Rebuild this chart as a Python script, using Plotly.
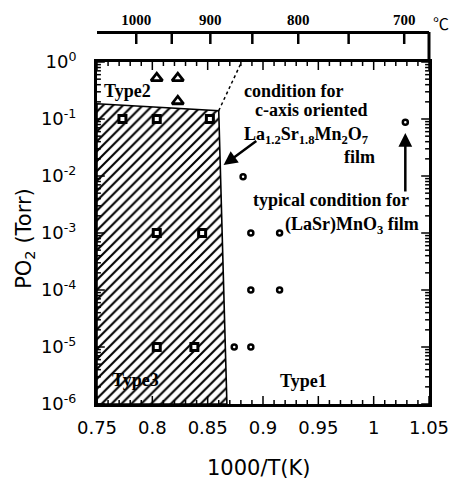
import plotly.graph_objects as go

# ---- data -------------------------------------------------------------
# Type3 (hatched region): squares
type3_x = [0.773, 0.804, 0.852, 0.804, 0.845, 0.804, 0.838]
type3_p = [0.1, 0.1, 0.1, 1e-3, 1e-3, 1e-5, 1e-5]

# Type2: triangles
type2_x = [0.804, 0.823, 0.823]
type2_p = [0.52, 0.52, 0.205]

# Type1: circles
type1_x = [0.882, 0.889, 0.915, 0.889, 0.915, 0.874, 0.889, 1.0286]
type1_p = [0.0097, 1e-3, 1e-3, 1e-4, 1e-4, 1e-5, 1e-5, 0.0875]

# Boundary of the Type3 region and the Type1/Type2 border
region3_x = [0.75, 0.860, 0.8674, 0.75, 0.75]
region3_p = [0.185, 0.14, 1e-6, 1e-6, 0.185]
border12_x = [0.860, 0.8806]
border12_p = [0.14, 1.0]

# Axis ticks
x_tickvals = [0.75, 0.8, 0.85, 0.9, 0.95, 1.0, 1.05]
x_ticktext = ["0.75", "0.8", "0.85", "0.9", "0.95", "1", "1.05"]
x_minor = [round(0.75 + 0.01 * i, 2) for i in range(31)]
y_exponents = [-6, -5, -4, -3, -2, -1, 0]
celsius_ticks = [1000, 950, 900, 850, 800, 750, 700]
celsius_labels = ["1000", "", "900", "", "800", "", "700"]

# ---- derived tick positions ----------------------------------------------
y_tickvals = [10.0 ** e for e in y_exponents]
y_ticktext = [f"10<sup>{e}</sup>" for e in y_exponents]
y_minor = [m * 10.0 ** e for e in y_exponents[:-1] for m in range(2, 10)]
top_tickvals = [1000.0 / (t + 273.15) for t in celsius_ticks]

X_RANGE = (0.75, 1.05)
Y_RANGE = (-6, 0)          # log10 of PO2
PLOT_W, PLOT_H = 340, 342  # pixel size of the main frame
PAPER_H = 372
STRIP_H = PAPER_H - PLOT_H # strip between the frame and the Celsius axis
Y_TOP = PLOT_H / PAPER_H   # main plot top, as fraction of the paper height

SANS = "DejaVu Sans"
SERIF = "Liberation Serif"

fig = go.Figure()

# hatched Type3 region
fig.add_trace(go.Scatter(
    x=region3_x, y=region3_p, mode="lines", fill="toself",
    fillpattern=dict(shape="/", size=7, solidity=0.3, fgcolor="black",
                     bgcolor="white", fgopacity=1, fillmode="replace"),
    line=dict(color="black", width=1.6), hoverinfo="skip", showlegend=False,
))
# dotted border between Type1 and Type2
fig.add_trace(go.Scatter(
    x=border12_x, y=border12_p, mode="lines",
    line=dict(color="black", width=1.5, dash="dot"), showlegend=False,
))

fig.add_trace(go.Scatter(
    x=type3_x, y=type3_p, mode="markers", showlegend=False,
    marker=dict(symbol="square", size=7, color="white", line=dict(color="black", width=3)),
))
fig.add_trace(go.Scatter(
    x=type2_x, y=type2_p, mode="markers", showlegend=False,
    marker=dict(symbol="triangle-up", size=10, color="white", line=dict(color="black", width=2.8)),
))
fig.add_trace(go.Scatter(
    x=type1_x, y=type1_p, mode="markers", showlegend=False,
    marker=dict(symbol="circle", size=5, color="white", line=dict(color="black", width=2.5)),
))

# downward ticks of the Celsius axis, drawn in the strip above the frame
cel_x, cel_y = [], []
for v in top_tickvals:
    cel_x += [v, v, None]
    cel_y += [STRIP_H, STRIP_H - 12, None]
fig.add_trace(go.Scatter(x=cel_x, y=cel_y, xaxis="x2", yaxis="y2", mode="lines",
                         line=dict(color="black", width=2.5), hoverinfo="skip",
                         showlegend=False))

axis_common = dict(showgrid=False, zeroline=False, showline=True, linecolor="black",
                   linewidth=3, ticks="")

fig.update_layout(
    width=461, height=479,
    margin=dict(l=97, r=24, t=32, b=75),
    paper_bgcolor="white", plot_bgcolor="white",
    xaxis=dict(
        **axis_common, range=list(X_RANGE), mirror=True,
        tickvals=x_tickvals, ticktext=x_ticktext,
        tickfont=dict(family=SANS, size=18, color="black"), ticklabelstandoff=5,
    ),
    xaxis2=dict(
        **axis_common, range=list(X_RANGE), overlaying="x", side="top",
        anchor="free", position=1.0,
        tickvals=top_tickvals, ticktext=celsius_labels,
        tickfont=dict(family=SERIF, size=15, color="black", weight="bold"),
    ),
    yaxis=dict(
        **axis_common, type="log", range=list(Y_RANGE), domain=[0, Y_TOP], mirror=True,
        tickvals=y_tickvals, ticktext=y_ticktext,
        tickfont=dict(family=SANS, size=18, color="black"), ticklabelstandoff=14,
    ),
    yaxis2=dict(domain=[Y_TOP, 1], range=[0, STRIP_H], anchor="x2", visible=False,
                showgrid=False, zeroline=False),
)

# inward tick marks on all four sides of the frame (lengths given in pixels)
tick_line = dict(color="black", width=1.5)
dx_per_px = (X_RANGE[1] - X_RANGE[0]) / PLOT_W
ddec_per_px = (Y_RANGE[1] - Y_RANGE[0]) / PLOT_H
for v in x_minor:
    length = 8 if v in x_tickvals else 4
    fig.add_shape(type="line", xref="x", yref="y", x0=v, x1=v,
                  y0=10 ** Y_RANGE[0], y1=10 ** (Y_RANGE[0] + length * ddec_per_px), line=tick_line)
    fig.add_shape(type="line", xref="x", yref="y", x0=v, x1=v,
                  y0=10 ** Y_RANGE[1], y1=10 ** (Y_RANGE[1] - length * ddec_per_px), line=tick_line)
for v in y_tickvals + y_minor:
    length = 8 if v in y_tickvals else 4
    fig.add_shape(type="line", xref="x", yref="y", y0=v, y1=v,
                  x0=X_RANGE[0], x1=X_RANGE[0] + length * dx_per_px, line=tick_line)
    fig.add_shape(type="line", xref="x", yref="y", y0=v, y1=v,
                  x0=X_RANGE[1], x1=X_RANGE[1] - length * dx_per_px, line=tick_line)

# right border continuing up to the Celsius axis
fig.add_shape(type="line", xref="paper", yref="paper", x0=1, x1=1, y0=Y_TOP, y1=1,
              line=dict(color="black", width=3))

# axis titles
fig.add_annotation(text="1000/T(K)", x=0.488, y=-0.172, xref="paper", yref="paper",
                   showarrow=False, xanchor="center", yanchor="middle",
                   font=dict(family=SANS, size=21, color="black"))
fig.add_annotation(text="PO<sub>2</sub> (Torr)", x=-0.2176, y=0.446, xref="paper", yref="paper",
                   showarrow=False, xanchor="center", yanchor="middle", textangle=-90,
                   font=dict(family=SANS, size=21, color="black"))

def label(text, x, y, size=18, **kw):
    fig.add_annotation(text=text, x=x, y=y, xref="x", yref="y", showarrow=False,
                       xanchor="left", yanchor="middle",
                       font=dict(family=SERIF, size=size, color="black", weight="bold"), **kw)

label("Type2", 0.7545, -0.50)
label("Type3", 0.7615, -5.58)
label("Type1", 0.9132, -5.6)
label("condition for", 0.8806, -0.503)
label("c-axis oriented", 0.8912, -0.842)
label("La<sub>1.2</sub>Sr<sub>1.8</sub>Mn<sub>2</sub>O<sub>7</sub>", 0.8806, -1.29)
label("film", 0.9715, -1.667)
label("typical condition for", 0.8894, -2.42)
label("(LaSr)MnO<sub>3</sub> film", 0.9185, -2.86)

# arrows
fig.add_annotation(x=0.8644, y=-1.807, ax=0.8953, ay=-1.368, xref="x", yref="y",
                   axref="x", ayref="y", text="", showarrow=True,
                   arrowhead=2, arrowsize=1.1, arrowwidth=2.5, arrowcolor="black")
fig.add_annotation(x=1.0286, y=-1.246, ax=1.0286, ay=-2.298, xref="x", yref="y",
                   axref="x", ayref="y", text="", showarrow=True,
                   arrowhead=2, arrowsize=1.1, arrowwidth=2.5, arrowcolor="black")

# degree Celsius unit for the top axis
fig.add_annotation(text="℃", x=1.035, y=1.0255, xref="paper", yref="paper", showarrow=False,
                   xanchor="center", yanchor="middle",
                   font=dict(family="Noto Sans CJK JP", size=16, color="black"))

fig.write_html("out.html")
